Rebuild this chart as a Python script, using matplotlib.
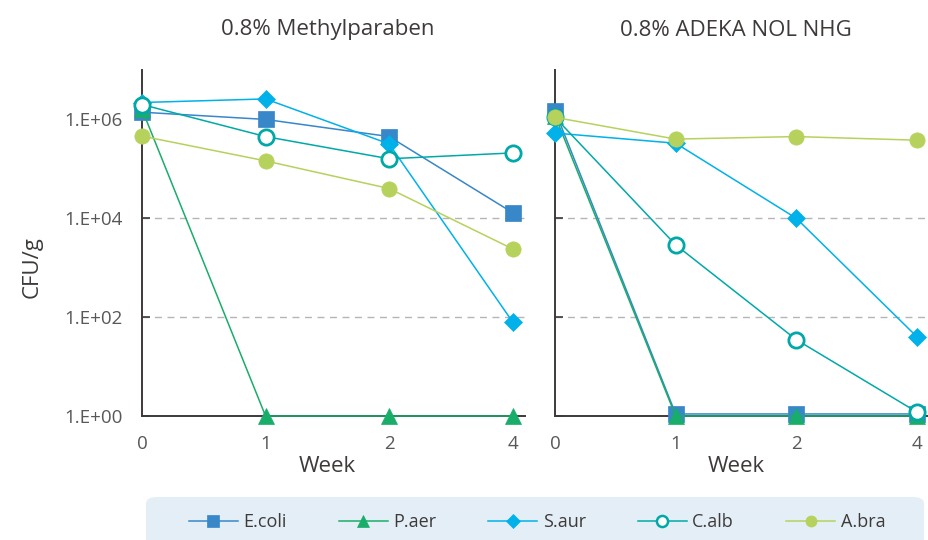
import matplotlib
matplotlib.use("Agg")
import matplotlib.pyplot as plt
import matplotlib.transforms as mtransforms
from matplotlib.patches import FancyBboxPatch
import numpy as np

plt.rcParams['font.family'] = ['Open Sans', 'DejaVu Sans']

weeks = ["0", "1", "2", "4"]
series_names = ["E.coli", "P.aer", "S.aur", "C.alb", "A.bra"]
titles = ["0.8% Methylparaben", "0.8% ADEKA NOL NHG"]

# Panel 1: 0.8% Methylparaben
methyl_ecoli = [1.4e6, 1.0e6, 4.5e5, 1.3e4]
methyl_paer = [1.6e6, 1, 1, 1]
methyl_saur = [2.2e6, 2.6e6, 3.2e5, 80]
methyl_calb = [2.0e6, 4.5e5, 1.6e5, 2.1e5]
methyl_abra = [4.6e5, 1.45e5, 4.0e4, 2.4e3]

# Panel 2: 0.8% ADEKA NOL NHG
adeka_ecoli = [1.5e6, 1.1, 1.1, 1.1]
adeka_paer = [1.2e6, 1, 1, 1]
adeka_saur = [5.3e5, 3.3e5, 1.0e4, 40]
adeka_calb = [1.1e6, 2.9e3, 35, 1.2]
adeka_abra = [1.1e6, 4.0e5, 4.5e5, 3.8e5]

ytick_vals = [1, 1e2, 1e4, 1e6]
ytick_labels = ["1.E+00", "1.E+02", "1.E+04", "1.E+06"]
grid_levels = [1e2, 1e4]

colors = ["#3787c9", "#19ad6a", "#00b1ea", "#00a9a7", "#b6d25c"]
markers = ["s", "^", "D", "o", "o"]
msizes = [11, 11, 9.5, 11, 11]
filled = [True, True, True, False, True]

panels = [
    [methyl_ecoli, methyl_paer, methyl_saur, methyl_calb, methyl_abra],
    [adeka_ecoli, adeka_paer, adeka_saur, adeka_calb, adeka_abra],
]

fig = plt.figure(figsize=(9.29, 5.4), dpi=100)
ax_pos = [
    [142 / 929, 1 - 416 / 540, 383 / 929, 346 / 540],
    [555 / 929, 1 - 416 / 540, 374 / 929, 346 / 540],
]
spine_col = "#3e3a39"
text_col = "#3e3a39"

x = np.arange(len(weeks))
for pi, (pos, data, title) in enumerate(zip(ax_pos, panels, titles)):
    ax = fig.add_axes(pos)
    ax.set_yscale("log")
    ax.set_ylim(1, 1e7)
    ax.set_xlim(0, 3.1)
    for gl in grid_levels:
        ax.axhline(gl, color="#b5b5b6", lw=1.0, ls=(0, (5, 4)), zorder=1)
    for vals, c, m, ms, f in zip(data, colors, markers, msizes, filled):
        ax.plot(x, vals, color=c, lw=1.1, marker=m, ms=ms,
                mfc=c if f else "white", mec=c, mew=2 if not f else 0.5,
                clip_on=False, zorder=3)
    for s in ["top", "right"]:
        ax.spines[s].set_visible(False)
    for s in ["left", "bottom"]:
        ax.spines[s].set_color(spine_col)
        ax.spines[s].set_linewidth(1.4)
    ax.set_yticks(ytick_vals)
    ax.yaxis.set_minor_locator(matplotlib.ticker.NullLocator())
    ax.set_xticks(x)
    ax.set_xticklabels(weeks)
    ax.tick_params(axis="x", length=0, pad=14, labelsize=13.5, labelcolor="#595757")
    ax.tick_params(axis="y", direction="in", length=6, width=1.2, color=spine_col,
                   labelsize=13.5, labelcolor="#595757", pad=14)
    if pi == 0:
        ax.set_yticklabels(ytick_labels)
        ax.set_ylabel("CFU/g", fontsize=16, color=text_col)
        ax.yaxis.set_label_coords(-0.26, 0.43)
    else:
        ax.set_yticklabels([])
    trans = mtransforms.blended_transform_factory(ax.transData, ax.transAxes)
    ax.text(1.5, (416 - 30) / 346, title, transform=trans, ha="center",
            va="center", fontsize=16, color=text_col)
    ax.text(1.5, -(467 - 416) / 346, "Week", transform=trans, ha="center", va="center",
            fontsize=16, color=text_col)

# legend background
bg = FancyBboxPatch((146 / 929, -0.05), (924 - 146) / 929, (540 - 497) / 540 + 0.05,
                    boxstyle="round,pad=0,rounding_size=0.012",
                    transform=fig.transFigure, facecolor="#e4eef7",
                    edgecolor="none", zorder=0)
fig.patches.append(bg)

handles = []
for name, c, m, f in zip(series_names, colors, markers, filled):
    h, = plt.plot([], [], color=c, lw=1.1, marker=m, ms=8 if m != "D" else 7,
                  mfc=c if f else "white", mec=c, mew=1.8 if not f else 0.5, label=name)
    handles.append(h)
fig.legend(handles=handles, loc="center", bbox_to_anchor=(537 / 929, 1 - 522 / 540),
           ncol=5, frameon=False, fontsize=13, handlelength=2.7, columnspacing=2.9,
           handletextpad=0.3, labelcolor=text_col)

fig.savefig("out.png", dpi=100)
